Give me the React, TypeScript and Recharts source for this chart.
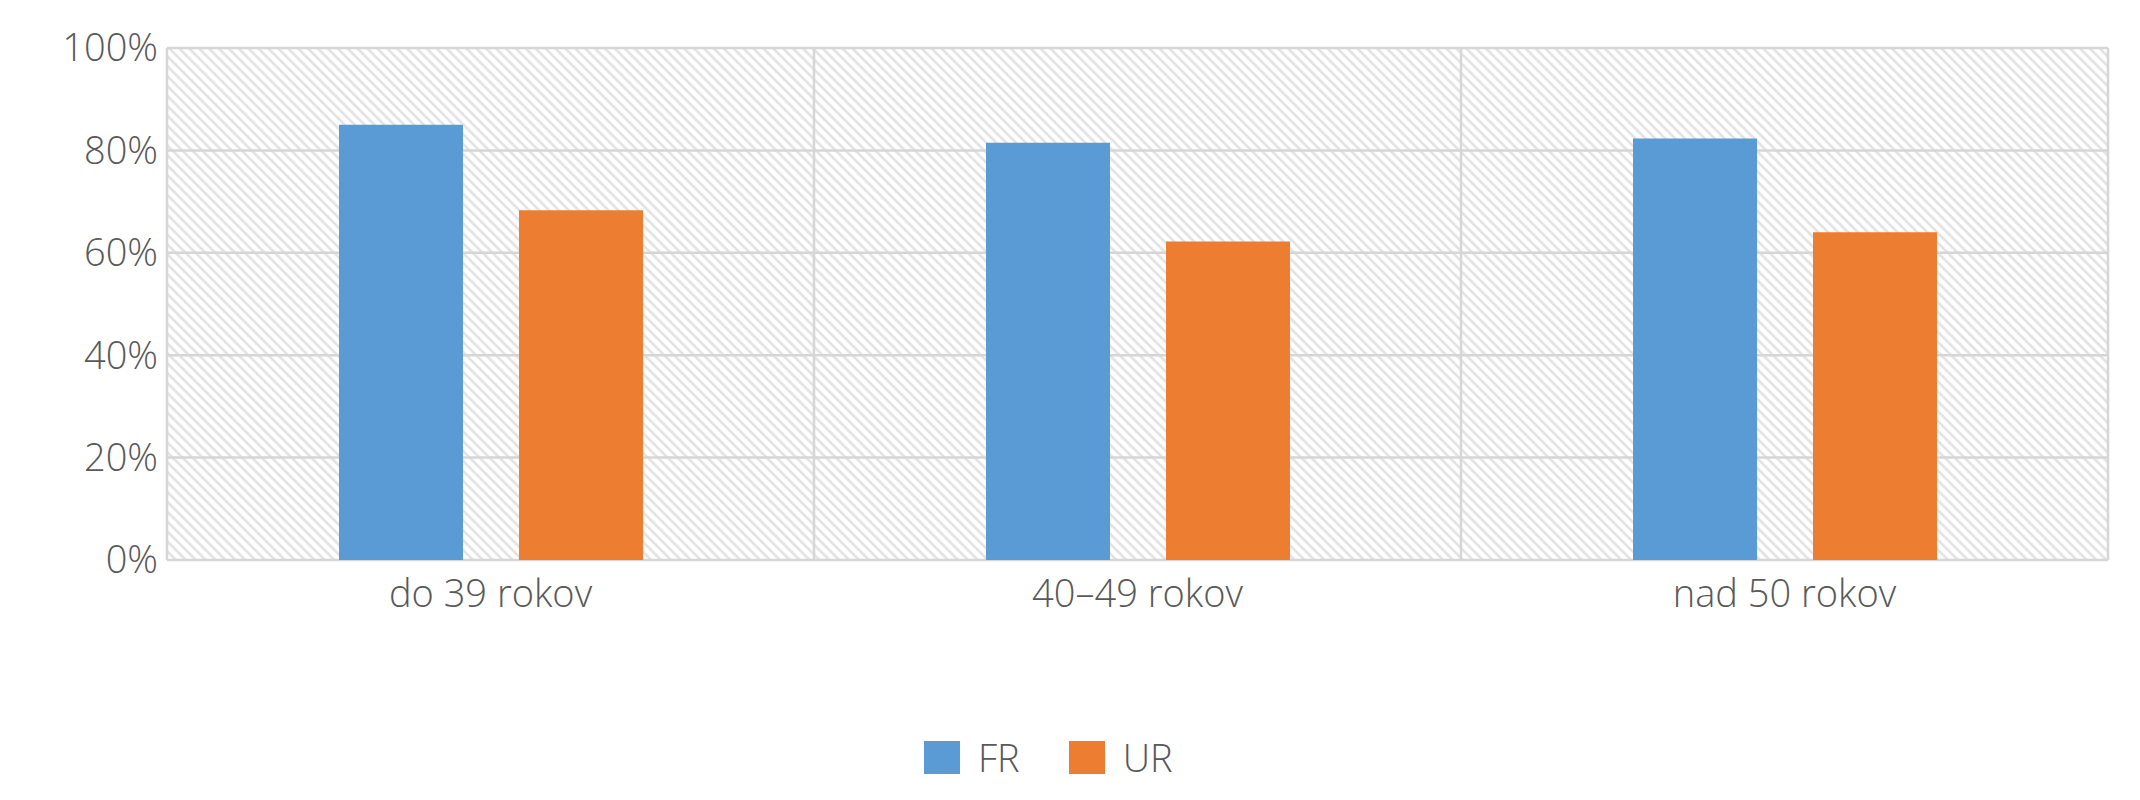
import React from 'react';
import { BarChart, Bar, XAxis, YAxis, CartesianGrid, Legend } from 'recharts';

const categories = ['do 39 rokov', '40–49 rokov', 'nad 50 rokov'];
const frValues = [85, 81.5, 82.3];
const urValues = [68.3, 62.2, 64];
const yTicks = [0, 20, 40, 60, 80, 100];
const seriesNames = ['FR', 'UR'];
const seriesColors = ['#5B9BD5', '#ED7D31'];

const data = categories.map((c, i) => ({ name: c, FR: frValues[i], UR: urValues[i] }));

const FONT = { fill: '#595959', fontSize: 38, fontFamily: 'Open Sans', fontWeight: 300 };

const LegendContent = () => (
  <div style={{ display: 'flex', alignItems: 'center', height: 50, paddingLeft: 924, fontFamily: 'Open Sans', fontWeight: 300, fontSize: 38, color: '#595959' }}>
    {seriesNames.map((n, i) => (
      <div key={n} style={{ display: 'flex', alignItems: 'center', marginRight: 49 }}>
        <div style={{ width: 36, height: 33, background: seriesColors[i], marginRight: 18 }} />
        <span style={{ lineHeight: '50px' }}>{n}</span>
      </div>
    ))}
  </div>
);

export default function App() {
  return (
    <div style={{ position: 'absolute', left: 0, top: 0, width: 2140, height: 800, background: '#fff' }}>
      <BarChart
        width={2140}
        height={800}
        data={data}
        margin={{ top: 48, right: 32, left: 0, bottom: 18 }}
        barSize={124}
        barGap={56}
      >
        <defs>
          <pattern id="hatch" patternUnits="userSpaceOnUse" width="7" height="7" patternTransform="rotate(-45)">
            <rect x="0" y="0" width="7" height="7" fill="#ffffff" />
            <line x1="1.5" y1="0" x2="1.5" y2="7" stroke="#e0e0e0" strokeWidth="2.4" />
          </pattern>
        </defs>
        <CartesianGrid
          fill="url(#hatch)"
          stroke="#d6d6d6"
          strokeWidth={2.5}
          verticalCoordinatesGenerator={({ offset }: any) => {
            const arr: number[] = [];
            for (let i = 0; i <= categories.length; i++) arr.push(offset.left + (offset.width * i) / categories.length);
            return arr;
          }}
        />
        <XAxis dataKey="name" axisLine={false} tickLine={false} tickSize={0} tickMargin={20} height={172} tick={FONT} interval={0} />
        <YAxis
          domain={[0, 100]}
          ticks={yTicks}
          width={167}
          axisLine={false}
          tickLine={false}
          tickSize={0}
          tickMargin={9}
          tick={FONT}
          tickFormatter={(v: number) => `${v}%`}
        />
        <Legend verticalAlign="bottom" content={<LegendContent />} />
        <Bar dataKey="FR" fill={seriesColors[0]} isAnimationActive={false} />
        <Bar dataKey="UR" fill={seriesColors[1]} isAnimationActive={false} />
      </BarChart>
    </div>
  );
}
